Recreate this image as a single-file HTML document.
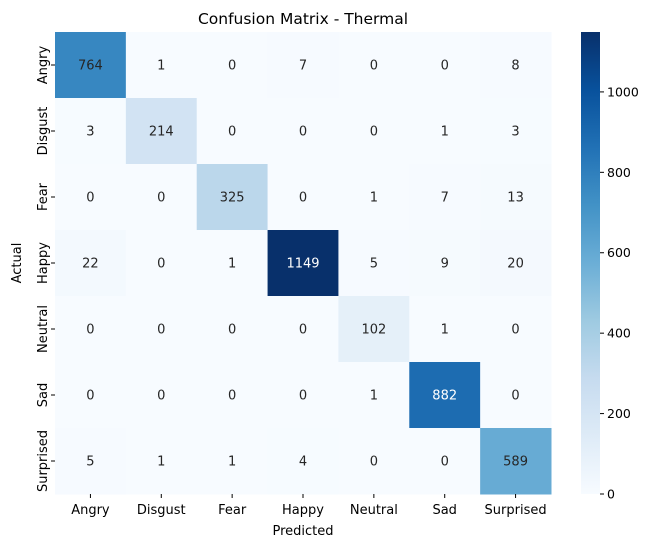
<!DOCTYPE html>
<html><head><meta charset="utf-8"><style>
body{margin:0;background:#fff;font-family:"Liberation Sans","DejaVu Sans",sans-serif}
</style></head><body>
<svg id="c" width="658" height="547" xmlns="http://www.w3.org/2000/svg" font-family="DejaVu Sans, Liberation Sans, sans-serif"></svg>
<script>
const classes=["Angry","Disgust","Fear","Happy","Neutral","Sad","Surprised"];
const matrix=[
[764,1,0,7,0,0,8],
[3,214,0,0,0,1,3],
[0,0,325,0,1,7,13],
[22,0,1,1149,5,9,20],
[0,0,0,0,102,1,0],
[0,0,0,0,1,882,0],
[5,1,1,4,0,0,589]];
const cbTicks=[0,200,400,600,800,1000];
const NS="http://www.w3.org/2000/svg",svg=document.getElementById('c');
const L=55,R=551,T=32,B=494;
const vmax=Math.max(...matrix.flat()),vmin=0;
const cw=(R-L)/classes.length,ch=(B-T)/classes.length;
const xs=i=>L+i*cw, ys=i=>T+i*ch;
const stops=["#f7fbff","#deebf7","#c6dbef","#9ecae1","#6baed6","#4292c6","#2171b5","#08519c","#08306b"].map(h=>[1,3,5].map(k=>parseInt(h.substr(k,2),16)));
function col(v){let t=(v-vmin)/(vmax-vmin)*(stops.length-1);let i=Math.min(Math.floor(t),stops.length-2),f=t-i;
return stops[i].map((a,k)=>Math.round(a+(stops[i+1][k]-a)*f));}
function el(tag,a,p){const e=document.createElementNS(NS,tag);for(const k in a)e.setAttribute(k,a[k]);(p||svg).appendChild(e);return e;}
function txt(s,a){const e=el('text',Object.assign({'font-size':13,fill:'#000'},a));e.textContent=s;return e;}
matrix.forEach((row,r)=>row.forEach((v,c)=>{
const cc=col(v);
const rc=el('rect',{x:xs(c),y:ys(r),width:cw+0.5,height:ch+0.5,fill:`rgb(${cc})`});


const lum=(0.2126*cc[0]+0.7152*cc[1]+0.0722*cc[2])/255;
const t=txt(String(v),{x:xs(c)+cw/2,y:ys(r)+ch/2+4.5,'text-anchor':'middle',fill:lum>0.408?'#262626':'#fff'});


}));
classes.forEach((n,i)=>{
el('line',{x1:xs(i)+cw/2,x2:xs(i)+cw/2,y1:B,y2:B+4,stroke:'#000'});
const t=txt(n,{x:xs(i)+cw/2,y:B+20,'text-anchor':'middle'});


const y=ys(i)+ch/2;
el('line',{x1:L-4,x2:L,y1:y,y2:y,stroke:'#000'});
const t2=txt(n,{x:L-8,y:y,'text-anchor':'middle',transform:`rotate(-90 ${L-8} ${y})`});


});
// colorbar
const CL=581,CR=600;
const g=el('defs',{});const lg=el('linearGradient',{id:'cb',x1:0,y1:1,x2:0,y2:0},g);
stops.forEach((s,i)=>el('stop',{offset:i/(stops.length-1),'stop-color':`rgb(${s})`},lg));
const cb=el('rect',{x:CL,y:T,width:CR-CL,height:B-T,fill:'url(#cb)'});


const cy=v=>B-(v-vmin)/(vmax-vmin)*(B-T);
cbTicks.forEach(v=>{el('line',{x1:CR,x2:CR+4,y1:cy(v),y2:cy(v),stroke:'#000'});
const t=txt(String(v),{x:CR+7,y:cy(v)+4.5,'font-size':12.5});

});
let t=txt('Confusion Matrix - Thermal',{x:(L+R)/2,y:T-8,'text-anchor':'middle','font-size':15.5});

t=txt('Predicted',{x:(L+R)/2,y:535,'text-anchor':'middle'});

t=txt('Actual',{x:21,y:(T+B)/2,'text-anchor':'middle',transform:`rotate(-90 21 ${(T+B)/2})`});

</script>
</body></html>
